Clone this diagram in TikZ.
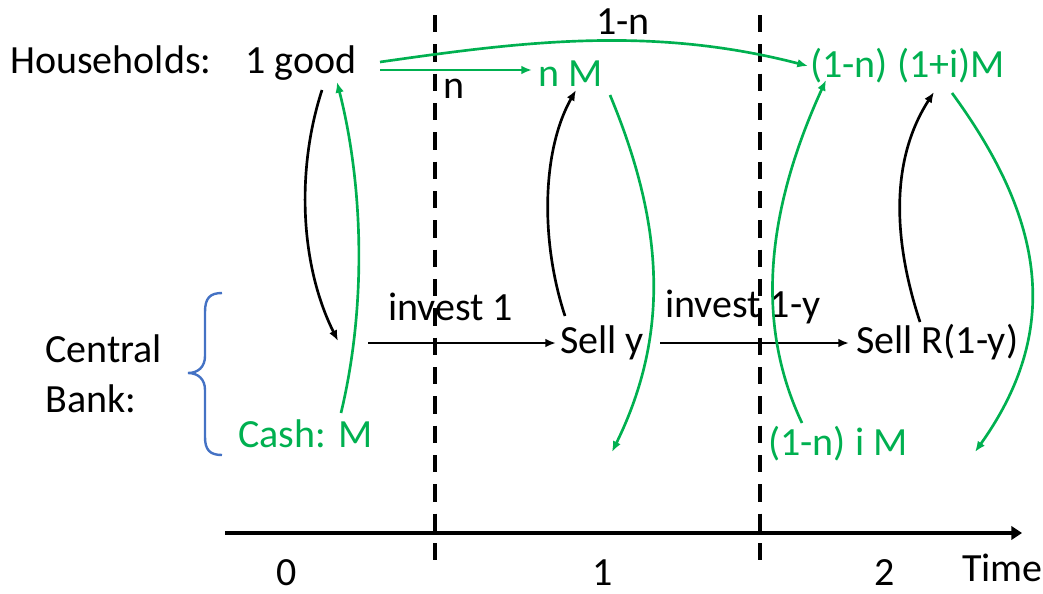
\documentclass[tikz,border=0pt]{standalone}
\usepackage{fontspec}
\setmainfont{Carlito}
\usetikzlibrary{arrows.meta}
\definecolor{ogreen}{HTML}{00B050}
\definecolor{oblue}{HTML}{4472C4}
\begin{document}
\begin{tikzpicture}[x=0.75pt,y=-0.75pt,
  txt/.style={inner sep=0pt,font=\fontsize{30}{37.5}\selectfont,anchor=base west},
  gtxt/.style={txt,text=ogreen},
  blk/.style={line width=2pt,-{Latex[length=8pt,width=6.5pt]}},
  grn/.style={blk,draw=ogreen},
  sep/.style={line width=3pt,dash pattern=on 13pt off 9pt},
]
\useasboundingbox (0,0) rectangle (1043,593);
% texts
\node[txt] (hh) at (10,73) {Households:};
\node[txt] (good) at (245,73) {1 good};
\node[gtxt] (nM) at (538,86) {n M};
\node[gtxt] (fin) at (810,77) {(1-n) (1+i)M};
\node[txt] (l1n) at (596,34) {1-n};
\node[txt] (ln) at (443,98) {n};
\node[txt,align=left,anchor=north west] (cb) at (45,334) {Central\\Bank:};
\node[gtxt] (cash) at (238,447) {Cash: M};
\node[txt] (inv1) at (388,320) {invest 1};
\node[txt] (selly) at (560,353) {Sell y};
\node[txt] (inv2) at (665,317) {invest 1-y};
\node[txt] (sellR) at (856,353) {Sell R(1-y)};
\node[gtxt] (inM) at (768,455) {(1-n) i M};
\node[txt,anchor=base] (t0) at (287,585) {0};
\node[txt,anchor=base] (t1) at (603,585) {1};
\node[txt,anchor=base] (t2) at (885,585) {2};
\node[txt] (time) at (962,581) {Time};
% separators and axis
\coordinate (s1t) at (435,15); \coordinate (s1b) at (435,562);
\coordinate (s2t) at (760,15); \coordinate (s2b) at (760,562);
\draw[sep] (s1t) -- (s1b);
\draw[sep] (s2t) -- (s2b);
\coordinate (ax0) at (225,533); \coordinate (ax1) at (1022,533);
\draw[line width=3pt,-{Triangle[length=8pt,width=10pt]}] (ax0) -- (ax1);
% brace
\draw[oblue,line width=1.8pt] (222,293) .. controls (210,293) and (205,298) .. (205,312) -- (205,356) .. controls (205,367) and (198,373) .. (188,373) .. controls (198,373) and (205,379) .. (205,390) -- (205,437) .. controls (205,450) and (210,455) .. (222,455);
% coordinates for connector ends
\coordinate (a1s) at (322,90);  \coordinate (a1e) at (338,341);
\coordinate (a2s) at (341,413); \coordinate (a2e) at (337,82);
\coordinate (a3s) at (380,70);  \coordinate (a3e) at (532,70);
\coordinate (a4s) at (380,62);  \coordinate (a4e) at (808,66);
\coordinate (a5s) at (368,343); \coordinate (a5e) at (556,343);
\coordinate (a6s) at (565,316); \coordinate (a6e) at (576,90);
\coordinate (a7s) at (610,95);  \coordinate (a7e) at (612,452);
\coordinate (a8s) at (660,343); \coordinate (a8e) at (849,343);
\coordinate (a9s) at (802,423); \coordinate (a9e) at (826,80);
\coordinate (a10s) at (920,322); \coordinate (a10e) at (934,92);
\coordinate (a11s) at (952,93); \coordinate (a11e) at (975,452);
% connectors
\draw[blk] (a1s) .. controls (296,170) and (300,265) .. (a1e);
\draw[grn] (a2s) .. controls (368,300) and (362,180) .. (a2e);
\draw[grn] (a3s) -- (a3e);
\draw[grn] (a4s) .. controls (520,42) and (650,25) .. (a4e);
\draw[blk] (a5s) -- (a5e);
\draw[blk] (a6s) .. controls (540,240) and (542,150) .. (a6e);
\draw[grn] (a7s) .. controls (662,220) and (672,330) .. (a7e);
\draw[blk] (a8s) -- (a8e);
\draw[grn] (a9s) .. controls (758,330) and (762,220) .. (a9e);
\draw[blk] (a10s) .. controls (893,240) and (890,160) .. (a10e);
\draw[grn] (a11s) .. controls (1045,220) and (1062,330) .. (a11e);
\end{tikzpicture}
\end{document}
